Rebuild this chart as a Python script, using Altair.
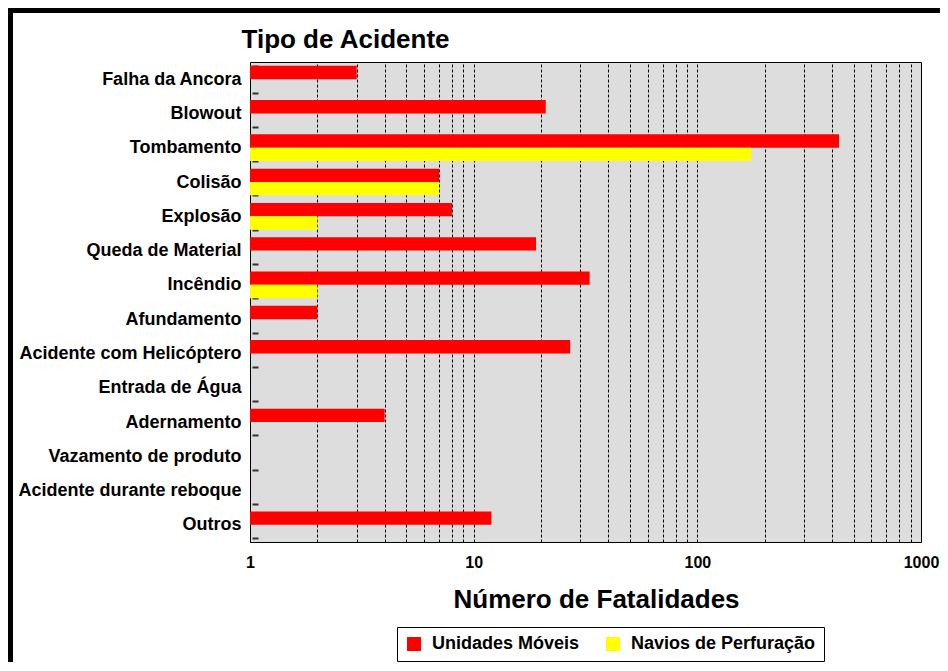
import altair as alt
import pandas as pd

categorias = [
    "Falha da Ancora", "Blowout", "Tombamento", "Colisão", "Explosão",
    "Queda de Material", "Incêndio", "Afundamento", "Acidente com Helicóptero",
    "Entrada de Água", "Adernamento", "Vazamento de produto",
    "Acidente durante reboque", "Outros",
]
unidades_moveis = [3, 21, 430, 7, 8, 19, 33, 2, 27, None, 4, None, None, 12]
navios_perfuracao = [None, None, 174, 7, 2, None, 2, None, None, None, None, None, None, None]
series = ["Unidades Móveis", "Navios de Perfuração"]
cores = ["#FF0000", "#FFFF00"]
ticks_x = [1, 2, 3, 4, 5, 6, 7, 8, 9, 10, 20, 30, 40, 50, 60, 70, 80, 90,
           100, 200, 300, 400, 500, 600, 700, 800, 900, 1000]
rotulos_x = [1, 10, 100, 1000]

rows = []
for cat, um, npf in zip(categorias, unidades_moveis, navios_perfuracao):
    if um is not None:
        rows.append({"tipo": cat, "serie": series[0], "valor": um})
    if npf is not None:
        rows.append({"tipo": cat, "serie": series[1], "valor": npf})
df = pd.DataFrame(rows)

FONT = "Liberation Sans"

bars = alt.Chart(df).mark_bar().encode(
    x=alt.X(
        "valor:Q",
        scale=alt.Scale(type="log", domain=[1, 1000], nice=False),
        axis=alt.Axis(
            values=ticks_x,
            format="d",
            labelExpr="indexof(%s, datum.value) >= 0 ? datum.label : ''" % str(rotulos_x),
            grid=True, gridColor="#000000", gridDash=[3, 2], gridWidth=1, gridOpacity=1,
            tickSize=0, domain=False,
            labelPadding=12, labelFontSize=16, labelFont=FONT, labelFontWeight="bold",
            labelColor="#000000", labelOverlap=False, labelFlush=False,
            titleFontSize=26, titleFont=FONT, titleFontWeight="bold", titleColor="#000000",
            titlePadding=16, titleX=346, titleAlign="center",
        ),
        title="Número de Fatalidades",
    ),
    x2=alt.datum(1),
    y=alt.Y(
        "tipo:N",
        sort=categorias,
        scale=alt.Scale(domain=categorias, paddingInner=0.22, paddingOuter=0.11),
        axis=alt.Axis(
            title="Tipo de Acidente",
            titleAngle=0, titleAlign="left", titleBaseline="alphabetic",
            titleX=-17, titleY=-15,
            titleFontSize=26, titleFont=FONT, titleFontWeight="bold", titleColor="#000000",
            labelFontSize=18, labelFont=FONT, labelFontWeight="bold", labelColor="#000000",
            labelLimit=400,
            tickBand="extent", tickSize=6, tickColor="#333333", tickWidth=2,
            domain=False, offset=-8, labelPadding=11, grid=False,
        ),
    ),
    yOffset=alt.YOffset("serie:N", sort=series, scale=alt.Scale(domain=series)),
    color=alt.Color(
        "serie:N",
        scale=alt.Scale(domain=series, range=cores),
        legend=alt.Legend(
            title=None, orient="none", legendX=147, legendY=565, direction="horizontal",
            padding=8, strokeColor="#000000", fillColor="#FFFFFF",
            symbolType="square", symbolSize=196, symbolStrokeWidth=0,
            labelFontSize=18, labelFont=FONT, labelFontWeight="bold", labelColor="#000000",
            labelLimit=400, labelOffset=9, columnPadding=24,
        ),
    ),
)

frame_df = pd.DataFrame({"k": [0]})
left_border = alt.Chart(frame_df).mark_rule(color="#000000", strokeWidth=5).encode(
    x=alt.value(-239.5), y=alt.value(-54), y2=alt.value(600)
)
top_border = alt.Chart(frame_df).mark_rule(color="#000000", strokeWidth=5).encode(
    x=alt.value(-242), x2=alt.value(700), y=alt.value(-51.5)
)

chart = alt.layer(bars, left_border, top_border).properties(
    width=671, height=480,
    autosize=alt.AutoSizeParams(type="none"),
    padding={"left": 242, "top": 54, "right": 19, "bottom": 120},
    background="#FFFFFF",
).configure_view(
    fill="#DDDDDD", stroke="#000000", strokeWidth=1
)

chart.save("out.html", embed_options={"renderer": "svg", "actions": False})
